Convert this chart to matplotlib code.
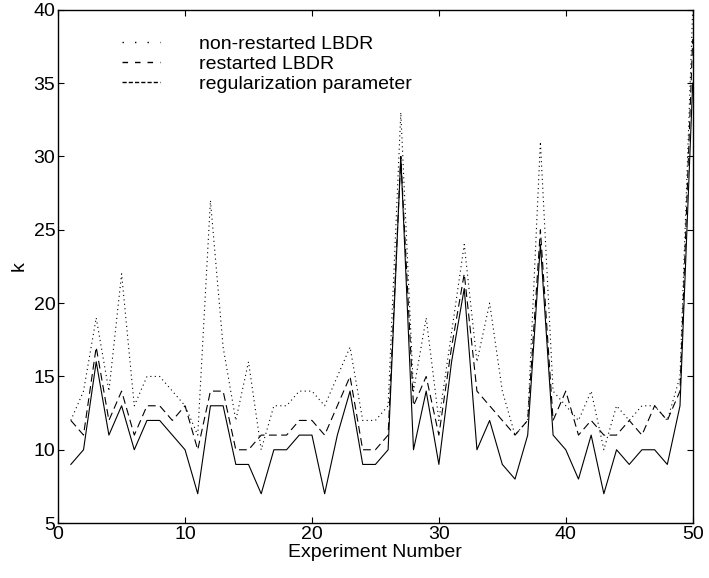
import matplotlib
matplotlib.use("Agg")
import matplotlib.pyplot as plt
from matplotlib.lines import Line2D

plt.rcParams['font.family'] = ['Liberation Sans', 'DejaVu Sans']

experiment = list(range(1, 51))

non_restarted = [12, 14, 19, 14, 22, 13, 15, 15, 14, 13,
                 11, 27, 17, 12, 16, 10, 13, 13, 14, 14,
                 13, 15, 17, 12, 12, 13, 33, 14, 19, 12,
                 18, 24, 16, 20, 14, 11, 12, 31, 14, 13,
                 12, 14, 10, 13, 12, 13, 13, 12, 15, 40]

restarted = [12, 11, 17, 12, 14, 11, 13, 13, 12, 13,
             10, 14, 14, 10, 10, 11, 11, 11, 12, 12,
             11, 13, 15, 10, 10, 11, 30, 13, 15, 11,
             17, 22, 14, 13, 12, 11, 12, 25, 12, 14,
             11, 12, 11, 11, 12, 11, 13, 12, 14, 38]

reg_param = [9, 10, 16, 11, 13, 10, 12, 12, 11, 10,
             7, 13, 13, 9, 9, 7, 10, 10, 11, 11,
             7, 11, 14, 9, 9, 10, 30, 10, 14, 9,
             16, 21, 10, 12, 9, 8, 11, 24, 11, 10,
             8, 11, 7, 10, 9, 10, 10, 9, 13, 35]

labels = ["non-restarted LBDR", "restarted LBDR", "regularization parameter"]

fig = plt.figure(figsize=(7.09, 5.78), dpi=100)
ax = fig.add_axes([0.082, 0.095, 0.895, 0.888])

ax.plot(experiment, non_restarted, color='black', lw=0.8, linestyle=(0, (1, 3)))
ax.plot(experiment, restarted, color='black', lw=0.8, linestyle=(0, (7, 4)))
ax.plot(experiment, reg_param, color='black', lw=0.8, linestyle='-')

ax.set_xlim(0, 50)
ax.set_ylim(5, 40)
ax.set_xticks(range(0, 51, 10))
ax.set_yticks(range(5, 41, 5))
ax.tick_params(direction='in', length=4, width=0.8, top=True, right=True,
               labelsize=14, pad=2)
for s in ax.spines.values():
    s.set_linewidth(1.0)

ax.set_xlabel("Experiment Number", fontsize=14, labelpad=1)
ax.set_ylabel("k", fontsize=14, labelpad=4)

# legend samples as in the original: sparse dots, sparse dashes, dense dashes
handles = [Line2D([], [], color='black', lw=1.0, linestyle=(0, (1, 8))),
           Line2D([], [], color='black', lw=1.0, linestyle=(0, (4, 5))),
           Line2D([], [], color='black', lw=1.0, linestyle=(0, (3, 1.5)))]
ax.legend(handles, labels, loc='upper left', bbox_to_anchor=(0.10, 0.95),
          frameon=False, fontsize=14, handlelength=2.0, handletextpad=2.0,
          labelspacing=0.12, borderaxespad=0, borderpad=0)

fig.savefig("out.png", dpi=100)
